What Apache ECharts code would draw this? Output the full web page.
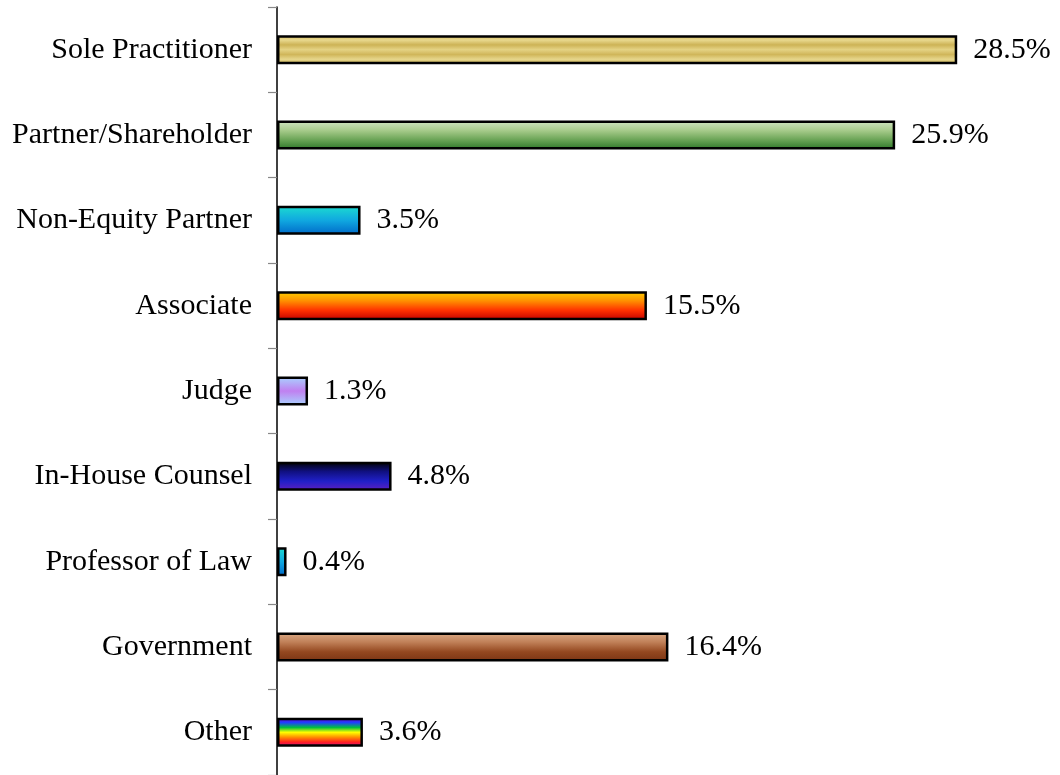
<!DOCTYPE html>
<html>
<head>
<meta charset="utf-8">
<style>
  html, body { margin: 0; padding: 0; background: #fff; }
  #main { width: 1060px; height: 775px; }
</style>
<script src="https://cdn.jsdelivr.net/npm/echarts@6/dist/echarts.min.js"></script>
</head>
<body>
<div id="main"></div>
<script>
var categories = ['Sole Practitioner', 'Partner/Shareholder', 'Non-Equity Partner', 'Associate',
  'Judge', 'In-House Counsel', 'Professor of Law', 'Government', 'Other'];
var values = [28.5, 25.9, 3.5, 15.5, 1.3, 4.8, 0.4, 16.4, 3.6];

// vertical gradient stops for each bar (top -> bottom)
var fills = [
  ['#d2b95c', '#e8d88e', '#cdb356', '#e4d284', '#d0b65a', '#e6d68c', '#c9ae50'],
  ['#d2e6c4', '#a8cc8c', '#6aa456', '#2c7628'],
  ['#1cdcd0', '#10a8e0', '#0068c8'],
  ['#ffd400', '#ff9000', '#ff3000', '#c00000'],
  ['#a8d4ff', '#c080f0', '#a8d4ff'],
  ['#000000', '#101080', '#2020c8', '#6020c0'],
  ['#1cdcd0', '#10a8e0', '#0068c8'],
  ['#dcac88', '#c08058', '#944820', '#7a3414'],
  ['#6a00c8', '#2040ff', '#00c040', '#ffff00', '#ff9000', '#ff2020', '#d0108a']
];

function grad(stops) {
  var n = stops.length - 1;
  return new echarts.graphic.LinearGradient(0, 0, 0, 1, stops.map(function (c, i) {
    return { offset: i / n, color: c };
  }));
}

var chart = echarts.init(document.getElementById('main'));

chart.setOption({
  animation: false,
  grid: { left: 277, top: 7, width: 716, bottom: 0, containLabel: false },
  xAxis: {
    type: 'value', min: 0, max: 30,
    show: false
  },
  yAxis: {
    type: 'category',
    data: categories,
    inverse: true,
    axisLine: { show: true, lineStyle: { color: '#000', width: 1.5 } },
    axisTick: { show: true, length: 9, lineStyle: { color: '#888', width: 1.2 } },
    axisLabel: {
      margin: 25,
      fontFamily: 'Liberation Serif',
      fontSize: 30,
      color: '#000'
    }
  },
  series: [{
    type: 'bar',
    barWidth: 29,
    data: values.map(function (v, i) {
      return { value: v, itemStyle: { color: grad(fills[i]) } };
    }),
    itemStyle: { borderColor: '#000', borderWidth: 2.5 },
    label: {
      show: true,
      position: 'right',
      distance: 16,
      fontFamily: 'Liberation Serif',
      fontSize: 30,
      color: '#000',
      formatter: function (p) { return p.value.toFixed(1) + '%'; }
    }
  }]
});
</script>
</body>
</html>
